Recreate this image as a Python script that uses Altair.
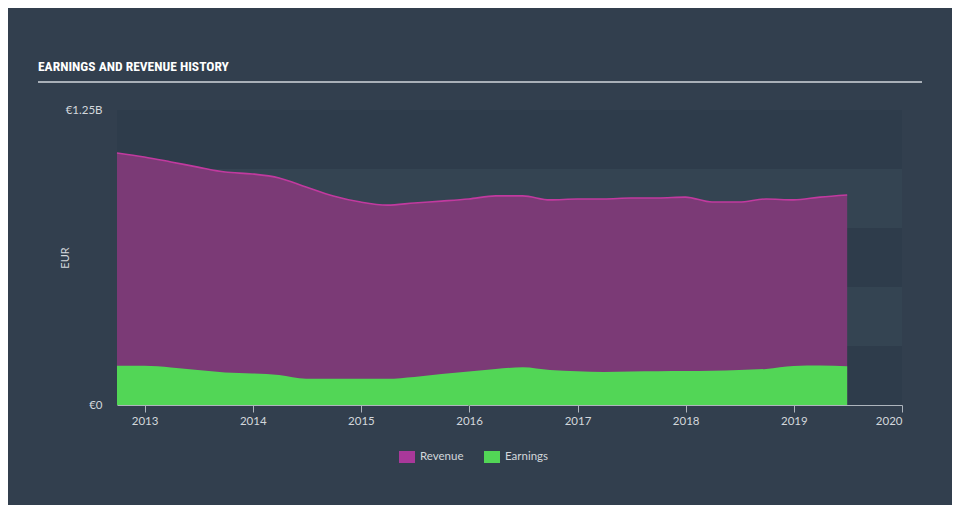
import altair as alt
import pandas as pd

# ---- data ----
dates = [
    "2012-09-30", "2012-12-31", "2013-03-31", "2013-06-30", "2013-09-30", "2013-12-31",
    "2014-03-31", "2014-06-30", "2014-09-30", "2014-12-31", "2015-03-31", "2015-06-30",
    "2015-09-30", "2015-12-31", "2016-03-31", "2016-06-30", "2016-09-30", "2016-12-31",
    "2017-03-31", "2017-06-30", "2017-09-30", "2017-12-31", "2018-03-31", "2018-06-30",
    "2018-09-30", "2018-12-31", "2019-03-31", "2019-06-30",
]
revenue = [
    1.068e9, 1.051e9, 1.030e9, 1.008e9, 0.987e9, 0.979e9,
    0.962e9, 0.924e9, 0.886e9, 0.860e9, 0.847e9, 0.856e9,
    0.864e9, 0.873e9, 0.886e9, 0.886e9, 0.869e9, 0.873e9,
    0.873e9, 0.877e9, 0.877e9, 0.881e9, 0.860e9, 0.860e9,
    0.873e9, 0.869e9, 0.881e9, 0.890e9,
]
earnings = [
    166e6, 166e6, 159e6, 148e6, 138e6, 134e6,
    127e6, 111e6, 111e6, 111e6, 111e6, 119e6,
    131e6, 142e6, 153e6, 160e6, 148e6, 143e6,
    140e6, 142e6, 143e6, 144e6, 145e6, 148e6,
    153e6, 165e6, 167e6, 164e6,
]
series_names = ["Revenue", "Earnings"]
legend_colors = ["#a9389a", "#52d656"]
band_lo = [0, 0.25e9, 0.5e9, 0.75e9, 1.0e9]
band_hi = [0.25e9, 0.5e9, 0.75e9, 1.0e9, 1.25e9]
band_kind = ["dark", "light", "dark", "light", "dark"]
year_ticks = [2013, 2014, 2015, 2016, 2017, 2018, 2019, 2020]
title_text = "EARNINGS AND REVENUE HISTORY"

W, H = 785, 295
FONT = "Lato"
LABEL_COLOR = "#d3d7dc"

df = pd.DataFrame({"date": dates, "Revenue": revenue, "Earnings": earnings})
bands = pd.DataFrame({"lo": band_lo, "hi": band_hi, "kind": band_kind})
legend_df = pd.DataFrame({"date": ["2016-01-01", "2016-01-01"], "v": [1e6, 1e6], "series": series_names})

x_scale = alt.Scale(
    type="utc",
    domain=[alt.DateTime(year=2012, month=9, date=30, utc=True),
            alt.DateTime(year=2020, month=1, date=1, utc=True)],
)
y_scale = alt.Scale(domain=[0, 1.25e9], nice=False)

x_axis = alt.Axis(
    values=[alt.DateTime(year=y, month=1, date=1, utc=True) for y in year_ticks],
    format="%Y", title=None, grid=False,
    domainColor="#aeb5bd", tickColor="#aeb5bd", tickSize=7, domainWidth=1,
    labelColor=LABEL_COLOR, labelFont=FONT, labelFontSize=11.5, labelPadding=3,
    labelFlush=True,
)
y_axis = alt.Axis(
    values=[0, 1.25e9],
    labelExpr="datum.value == 0 ? '€0' : '€' + format(datum.value / 1e9, '.2f') + 'B'",
    title="EUR", titleColor=LABEL_COLOR, titleFont=FONT, titleFontSize=11,
    titleFontWeight="normal", titleX=-52, titleY=H / 2, titleAngle=-90,
    titleAlign="center", titleBaseline="middle",
    grid=False, domain=False, ticks=False, labelPadding=15, labelFlush=False,
    labelColor=LABEL_COLOR, labelFont=FONT, labelFontSize=11.5,
)

band_layer = alt.Chart(bands).mark_rect().encode(
    x=alt.value(0), x2=alt.value(W),
    y=alt.Y("lo:Q", scale=y_scale, axis=y_axis),
    y2="hi:Q",
    fill=alt.Fill("kind:N", scale=alt.Scale(domain=["dark", "light"], range=["#2e3c4b", "#344452"]), legend=None),
)

legend_layer = alt.Chart(legend_df).mark_square(size=4).encode(
    x=alt.X("date:T", scale=x_scale, axis=x_axis),
    y=alt.Y("v:Q", scale=y_scale),
    color=alt.Color(
        "series:N",
        scale=alt.Scale(domain=series_names, range=legend_colors),
        legend=alt.Legend(
            title=None, orient="none", direction="horizontal", legendX=282, legendY=339,
            symbolType="M-1,-0.75H1V0.75H-1Z", symbolSize=256, symbolOpacity=1,
            symbolStrokeWidth=0, labelColor=LABEL_COLOR, labelFont=FONT, labelFontSize=11.5,
            labelOffset=5, columnPadding=20, padding=0,
        ),
    ),
)

base = alt.Chart(df)
rev_area = base.mark_area(color="#7b3a76", interpolate="monotone").encode(
    x=alt.X("date:T", scale=x_scale), y=alt.Y("Revenue:Q", scale=y_scale)
)
rev_line = base.mark_line(color="#c13a9f", strokeWidth=1.6, interpolate="monotone").encode(
    x=alt.X("date:T", scale=x_scale), y=alt.Y("Revenue:Q", scale=y_scale)
)
earn_area = base.mark_area(color="#52d656", interpolate="monotone").encode(
    x=alt.X("date:T", scale=x_scale), y=alt.Y("Earnings:Q", scale=y_scale)
)

one = pd.DataFrame({"t": [title_text]})
title_layer = alt.Chart(one).mark_text(
    align="left", baseline="middle",
    font="Roboto Condensed, Noto Sans Condensed, Liberation Sans Narrow, Roboto, sans-serif",
    fontWeight="bold", fontSize=13.5, color="#ffffff",
).encode(text="t:N", x=alt.value(-79), y=alt.value(-43))
underline = alt.Chart(one).mark_rule(color="#a9b0b8", strokeWidth=2).encode(
    x=alt.value(-79), x2=alt.value(805), y=alt.value(-28)
)

chart = alt.layer(
    band_layer, legend_layer, rev_area, rev_line, earn_area, title_layer, underline
).resolve_scale(color="independent", fill="independent").properties(
    width=W, height=H,
    background="#323f4e",
    padding={"left": 109, "top": 102, "right": 50, "bottom": 100},
    autosize=alt.AutoSizeParams(type="none"),
).configure_view(stroke=None)

chart.save("out.html", embed_options={"renderer": "svg", "actions": False})
